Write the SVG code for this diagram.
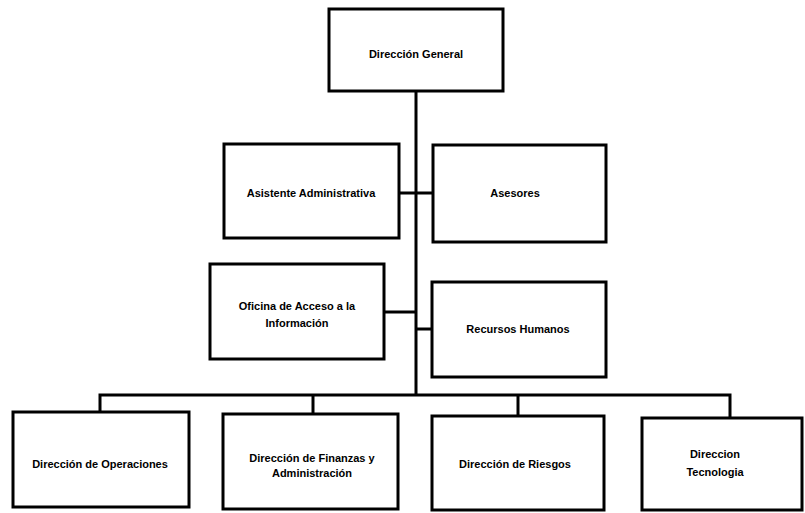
<svg xmlns="http://www.w3.org/2000/svg" width="805" height="513" viewBox="0 0 805 513">
<style>
.box{fill:#fff;stroke:#000;stroke-width:3}
.ln{stroke:#000;stroke-width:3;fill:none}
text{font-family:"Liberation Sans",Arial,sans-serif;font-weight:bold;font-size:11px;fill:#000;text-anchor:middle}
</style>
<rect width="805" height="513" fill="#fff"/>
<g id="connectors">
<line class="ln" x1="416" y1="91" x2="416" y2="396"/>
<line class="ln" x1="399" y1="193" x2="433" y2="193"/>
<line class="ln" x1="384" y1="312" x2="416" y2="312"/>
<line class="ln" x1="416" y1="329" x2="432" y2="329"/>
<polyline class="ln" points="100,412 100,395 730,395 730,418"/>
<line class="ln" x1="313" y1="395" x2="313" y2="414"/>
<line class="ln" x1="518" y1="395" x2="518" y2="416"/>
</g>
<g id="direccion-general">
<rect class="box" x="329" y="9" width="174" height="82"/>
<text x="416" y="58">Dirección General</text>
</g>
<g id="asistente">
<rect class="box" x="224" y="144" width="175" height="94"/>
<text x="311" y="197">Asistente Administrativa</text>
</g>
<g id="asesores">
<rect class="box" x="433" y="145" width="173" height="97"/>
<text x="515" y="197">Asesores</text>
</g>
<g id="oficina">
<rect class="box" x="210" y="264" width="174" height="95"/>
<text x="297" y="310">Oficina de Acceso a la</text>
<text x="297" y="327">Información</text>
</g>
<g id="recursos">
<rect class="box" x="432" y="282" width="174" height="95"/>
<text x="518" y="333">Recursos Humanos</text>
</g>
<g id="operaciones">
<rect class="box" x="13" y="412" width="176" height="95"/>
<text x="100" y="468">Dirección de Operaciones</text>
</g>
<g id="finanzas">
<rect class="box" x="223" y="414" width="175" height="95"/>
<text x="312" y="462">Dirección de Finanzas y</text>
<text x="312" y="477">Administración</text>
</g>
<g id="riesgos">
<rect class="box" x="432" y="416" width="172" height="94"/>
<text x="515" y="468">Dirección de Riesgos</text>
</g>
<g id="tecnologia">
<rect class="box" x="642" y="418" width="160" height="92"/>
<text x="715" y="458">Direccion</text>
<text x="715" y="476">Tecnologia</text>
</g>
</svg>
